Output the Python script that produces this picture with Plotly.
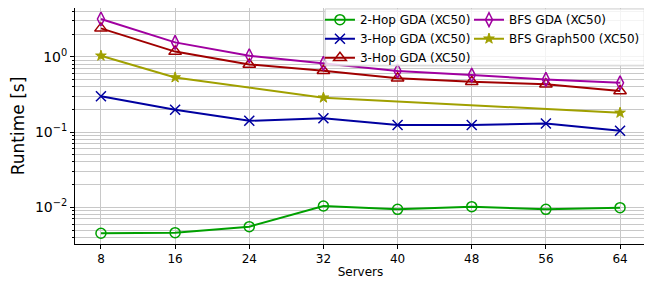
import plotly.graph_objects as go

servers = [8, 16, 24, 32, 40, 48, 56, 64]
servers_g500 = [8, 16, 32, 64]

hop2_gda = [0.00452, 0.00461, 0.00554, 0.0104, 0.0094, 0.0102, 0.0094, 0.0099]
hop3_gda_blue = [0.298, 0.198, 0.141, 0.152, 0.124, 0.124, 0.130, 0.104]
hop3_gda_red = [2.38, 1.17, 0.79, 0.65, 0.517, 0.466, 0.43, 0.35]
bfs_gda = [3.17, 1.55, 1.03, 0.817, 0.646, 0.571, 0.50, 0.45]
bfs_g500 = [1.03, 0.53, 0.286, 0.18]

ytick_vals = [0.01, 0.1, 1]
ytick_text = ["10<sup>−2</sup>", "10<sup>−1</sup>", "10<sup>0</sup>"]
minor_vals = [m * 10 ** e for e in range(-3, 1) for m in range(2, 10)]

series = [
    dict(name="2-Hop GDA (XC50)", x=servers, y=hop2_gda, color="#00A000",
         symbol="circle-open", size=10, lw=1.5, leg="legend"),
    dict(name="3-Hop GDA (XC50)", x=servers, y=hop3_gda_blue, color="#0000A0",
         symbol="x-thin-open", size=10, lw=1.5, leg="legend"),
    dict(name="3-Hop GDA (XC50)", x=servers, y=hop3_gda_red, color="#A00000",
         symbol="triangle-up-open", size=11, lw=1.5, leg="legend"),
    dict(name="BFS GDA (XC50)", x=servers, y=bfs_gda, color="#A000A0",
         symbol="diamond-tall-open", size=10, lw=1.5, leg="legend2"),
    dict(name="BFS Graph500 (XC50)", x=servers_g500, y=bfs_g500, color="#A0A000",
         symbol="star", size=8, lw=1, leg="legend2"),
]

fig = go.Figure()
for s in series:
    fig.add_trace(go.Scatter(
        x=s["x"], y=s["y"], name=s["name"], mode="lines+markers",
        line=dict(color=s["color"], width=2),
        marker=dict(symbol=s["symbol"], size=s["size"], color=s["color"],
                    line=dict(color=s["color"], width=s["lw"])),
        legend=s["leg"],
    ))

# legend frame (matplotlib-style box around both legend columns)
fig.add_shape(type="rect", xref="paper", yref="paper",
              x0=0.438, x1=0.997, y0=0.755, y1=0.996,
              fillcolor="rgba(255,255,255,0.8)",
              line=dict(color="#cccccc", width=1), layer="above")

grid_color = "#c8c8c8"
leg_common = dict(
    orientation="v", yanchor="top", xanchor="left", y=1.012,
    bgcolor="rgba(0,0,0,0)", borderwidth=0,
    font=dict(size=12, family="DejaVu Sans"),
    tracegroupgap=0, itemwidth=30,
)
# The page body adds an 8px offset; the figure is sized to fill the rest.
fig.update_layout(
    width=644, height=281,
    margin=dict(l=67, r=6, t=0, b=45, autoexpand=False),
    paper_bgcolor="white", plot_bgcolor="white",
    font=dict(family="DejaVu Sans", color="black", size=12),
    showlegend=True,
    legend=dict(x=0.429, **leg_common),
    legend2=dict(x=0.690, **leg_common),
    xaxis=dict(
        range=[5.2, 66.8], tickvals=servers, ticktext=[str(v) for v in servers],
        ticks="outside", ticklen=4, tickcolor="black",
        showline=True, linecolor="black", linewidth=1, mirror=True,
        showgrid=True, gridcolor=grid_color, gridwidth=1, zeroline=False,
        title=dict(text="Servers", font=dict(size=12), standoff=2),
        tickfont=dict(size=12),
    ),
    yaxis=dict(
        type="log", range=[-2.487, 0.647],
        tickvals=ytick_vals, ticktext=ytick_text,
        ticks="outside", ticklen=4, tickcolor="black",
        showline=True, linecolor="black", linewidth=1, mirror=True,
        showgrid=True, gridcolor=grid_color, gridwidth=1, zeroline=False,
        tickfont=dict(size=14),
        title=dict(text="Runtime [s]", font=dict(size=17), standoff=6),
        minor=dict(tickvals=minor_vals, ticks="outside", ticklen=2, tickcolor="black",
                   showgrid=True, gridcolor=grid_color, gridwidth=1),
    ),
)

fig.write_html("out.html")
